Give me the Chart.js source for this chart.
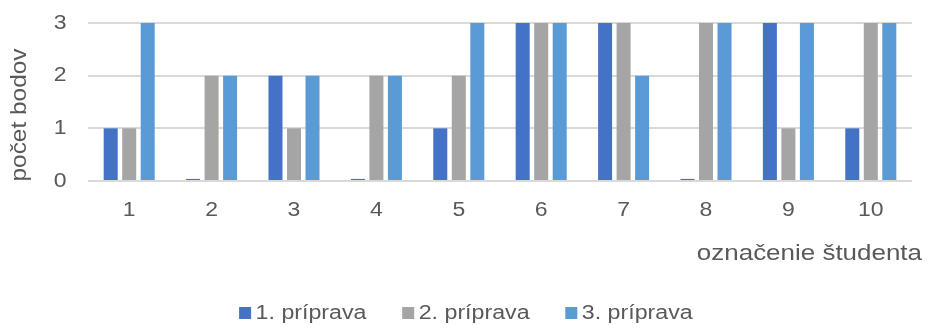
<!DOCTYPE html>
<html lang="sk">
<head>
<meta charset="utf-8">
<title>Počet bodov podľa študenta</title>
<script src="https://cdn.jsdelivr.net/npm/chart.js@4.4.1/dist/chart.umd.min.js"></script>
<style>
  html, body { margin: 0; padding: 0; background: #ffffff; }
  #wrap { position: relative; width: 927px; height: 328px; }
</style>
</head>
<body>
<div id="wrap"><canvas id="c"></canvas></div>
<script>
// Student labels and points per preparation round
const students = ['1', '2', '3', '4', '5', '6', '7', '8', '9', '10'];
const seriesNames = ['1. príprava', '2. príprava', '3. príprava'];
const prep1 = [1, 0.04, 2, 0.04, 1, 3, 3, 0.04, 3, 1];
const prep2 = [1, 2, 1, 2, 2, 3, 3, 3, 1, 3];
const prep3 = [3, 2, 2, 2, 3, 3, 2, 3, 3, 3];
const yTicks = [0, 1, 2, 3];

const seriesColors = ['#4472C4', '#A5A5A5', '#5B9BD5'];
const textColor = '#595959';

Chart.defaults.font.family = "'Liberation Sans', Arial, sans-serif";
Chart.defaults.color = textColor;

// Draw the text of a scale/legend method with wider glyphs (stretched along
// the writing direction), optional letter spacing and a small offset.
function wrapText(target, method, { spacing = '0px', stretch = 1, dx = 0, dy = 0 } = {}) {
  const original = target[method];
  target[method] = function (...args) {
    const ctx = this.ctx;
    const baseFill = ctx.fillText;
    ctx.save();
    ctx.letterSpacing = spacing;
    ctx.translate(dx, dy);
    if (stretch !== 1) {
      ctx.fillText = function (text, x, y, maxWidth) {
        this.save();
        this.scale(stretch, 1);
        if (maxWidth === undefined) baseFill.call(this, text, x / stretch, y);
        else baseFill.call(this, text, x / stretch, y, maxWidth / stretch);
        this.restore();
      };
    }
    try {
      return original.apply(this, args);
    } finally {
      delete ctx.fillText;
      ctx.restore();
    }
  };
}

const wideText = {
  id: 'wideText',
  beforeLayout(chart) {
    const { x, y } = chart.scales;
    if (x && !x.$wide) {
      wrapText(x, 'drawTitle', { stretch: 1.18, dx: 10, dy: 21 });
      wrapText(x, 'drawLabels', { stretch: 1.15 });
      x.$wide = true;
    }
    if (y && !y.$wide) {
      wrapText(y, 'drawTitle', { stretch: 1.11, dx: 1, dy: 13 });
      wrapText(y, 'drawLabels', { stretch: 1.15, dx: -21.5 });
      y.$wide = true;
    }
    const lg = chart.legend;
    if (lg && !lg.$wide) {
      wrapText(lg, 'draw', { stretch: 1.16, dx: 5 });
      lg.$wide = true;
    }
  }
};

new Chart(document.getElementById('c'), {
  type: 'bar',
  data: {
    labels: students,
    datasets: [prep1, prep2, prep3].map((values, i) => ({
      label: seriesNames[i],
      data: values,
      backgroundColor: seriesColors[i],
      borderWidth: 0,
      categoryPercentage: 0.674,
      barPercentage: 0.757
    }))
  },
  options: {
    responsive: true,
    maintainAspectRatio: false,
    animation: false,
    devicePixelRatio: 1,
    layout: { padding: { top: 23, right: 15, bottom: -5, left: 0 } },
    plugins: {
      tooltip: { enabled: false },
      legend: {
        position: 'bottom',
        labels: {
          color: textColor,
          font: { size: 20 },
          usePointStyle: true,
          pointStyle: 'rect',
          boxWidth: 1,
          boxHeight: 12,
          padding: 56.5
        }
      }
    },
    scales: {
      x: {
        grid: { display: false },
        border: { display: false },
        ticks: { color: textColor, font: { size: 20 }, padding: 9, maxRotation: 0 },
        title: {
          display: true,
          text: 'označenie študenta',
          align: 'end',
          color: textColor,
          font: { size: 22 },
          padding: 0
        },
        afterFit(scale) { scale.height = 65.5; }
      },
      y: {
        min: 0,
        max: 3,
        grid: { color: '#D9D9D9', lineWidth: 2, drawTicks: false },
        border: { display: false },
        ticks: { color: textColor, font: { size: 20 }, padding: 0 },
        afterBuildTicks(scale) { scale.ticks = yTicks.map(v => ({ value: v })); },
        title: {
          display: true,
          text: 'počet bodov',
          color: textColor,
          font: { size: 22 },
          padding: { top: 5.5, bottom: 0 }
        },
        afterFit(scale) { scale.width = 88; }
      }
    }
  },
  plugins: [wideText]
});
</script>
</body>
</html>
